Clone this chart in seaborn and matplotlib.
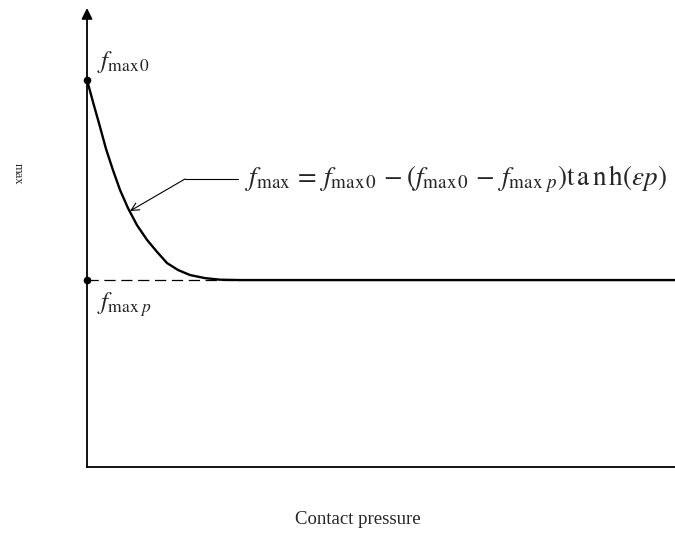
import matplotlib
matplotlib.use("Agg")
import matplotlib.pyplot as plt
import seaborn as sns
import pandas as pd

# Data (arbitrary units)
pressure = [0.0, 0.102, 0.221, 0.323, 0.442, 0.561, 0.697, 0.850, 1.020, 1.190,
            1.361, 1.548, 1.752, 2.007, 2.262, 2.602, 2.942, 4.0, 6.0, 8.0, 10.0]
f_max = [1.0, 0.943, 0.879, 0.822, 0.767, 0.716, 0.669, 0.625, 0.587, 0.556,
         0.527, 0.509, 0.496, 0.488, 0.484, 0.483, 0.483, 0.483, 0.483, 0.483, 0.483]
f_max0 = 1.0
f_maxp = 0.483
dash_end = 2.6

sns.set_theme(style="white")
plt.rcParams["font.family"] = ["Liberation Serif", "DejaVu Serif"]
plt.rcParams["mathtext.fontset"] = "stix"

fig = plt.figure(figsize=(6.75, 5.37), dpi=100)
ax = fig.add_axes([87/675, 70/537, 588/675, 459/537])

df = pd.DataFrame({"p": pressure, "f": f_max})
sns.lineplot(data=df, x="p", y="f", ax=ax, color="black", lw=1.7)

ax.plot([0, dash_end], [f_maxp, f_maxp], color="black", lw=0.9, linestyle=(0, (9, 4.5)))
ax.plot([0, 0], [f_max0, f_maxp], linestyle="none", marker="o", ms=4.5,
        color="black", clip_on=False, zorder=5)

ax.set_xlim(0, 10)
ax.set_ylim(0, 1.186)
ax.set_xticks([])
ax.set_yticks([])
ax.set_xlabel("")
ax.set_ylabel("")
for s in ["top", "right", "left"]:
    ax.spines[s].set_visible(False)
ax.spines["bottom"].set_color("black")
ax.spines["bottom"].set_linewidth(1.3)

ax.annotate("", xy=(0, 1.0), xytext=(0, 0), xycoords="axes fraction",
            arrowprops=dict(arrowstyle="-|>", color="black", lw=1.3,
                            mutation_scale=16, shrinkA=0, shrinkB=0))

ax.text(0.17, f_max0 + 0.012, r"$f_{\mathrm{max\,0}}$", fontsize=18, va="bottom", ha="left")
ax.text(0.17, f_maxp - 0.025, r"$f_{\mathrm{max}\ p}$", fontsize=18, va="top", ha="left")

# annotation leader
xa = (185 - 87) / 588 * 10
xt = (238 - 87) / 588 * 10
ya = (467 - 179) / 387
ax.plot([xa, xt], [ya, ya], color="black", lw=0.8)
ax.annotate("", xy=((130 - 87) / 588 * 10, (467 - 211) / 387), xytext=(xa, ya),
            arrowprops=dict(arrowstyle="->", color="black", lw=0.8,
                            mutation_scale=14, shrinkA=0, shrinkB=0))
ax.text((245 - 87) / 588 * 10, ya,
        r"$f_{\mathrm{max}}\,=\,f_{\mathrm{max\,0}}\,-\left(f_{\mathrm{max\,0}}\,-\,f_{\mathrm{max}\ p}\right)\mathrm{t\,a\,n\,h}\left(\varepsilon p\right)$",
        fontsize=19.5, va="center", ha="left")

fig.text(358/675, 1 - 520/537, "Contact pressure", fontsize=13.5, ha="center", va="center")
fig.text(18/675, 1 - 174/537, "max", fontsize=9, rotation=-90, ha="center", va="center")

fig.savefig("out.png", dpi=100)
